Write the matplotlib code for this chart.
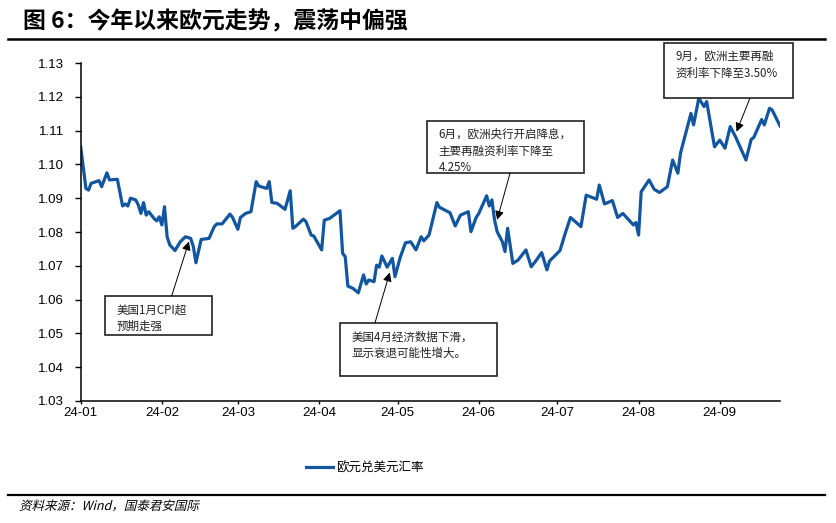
import pandas as pd
import matplotlib
matplotlib.use('Agg')
import matplotlib.pyplot as plt
import matplotlib.dates as mdates
from matplotlib.patches import Rectangle, PathPatch
from matplotlib.lines import Line2D
from matplotlib.textpath import TextPath
from matplotlib.font_manager import FontProperties
from matplotlib.transforms import Affine2D

plt.rcParams['font.family'] = ['Liberation Sans', 'Noto Sans CJK SC']
cjk = ['Noto Sans CJK SC', 'DejaVu Sans']

# EUR/USD
dates = ['2024-01-01', '2024-01-03', '2024-01-04', '2024-01-05', '2024-01-08', '2024-01-09',
         '2024-01-11', '2024-01-12', '2024-01-15', '2024-01-17', '2024-01-18', '2024-01-19',
         '2024-01-20', '2024-01-22', '2024-01-23', '2024-01-24', '2024-01-25', '2024-01-26',
         '2024-01-27', '2024-01-29', '2024-01-30', '2024-01-31', '2024-02-01', '2024-02-02',
         '2024-02-03', '2024-02-04', '2024-02-06', '2024-02-08', '2024-02-10', '2024-02-12',
         '2024-02-13', '2024-02-14', '2024-02-16', '2024-02-19', '2024-02-21', '2024-02-22',
         '2024-02-24', '2024-02-27', '2024-02-28', '2024-03-01', '2024-03-02', '2024-03-04',
         '2024-03-06', '2024-03-08', '2024-03-09', '2024-03-12', '2024-03-13', '2024-03-14',
         '2024-03-16', '2024-03-19', '2024-03-21', '2024-03-22', '2024-03-23', '2024-03-26',
         '2024-03-27', '2024-03-29', '2024-03-30', '2024-04-02', '2024-04-03', '2024-04-05',
         '2024-04-09', '2024-04-10', '2024-04-11', '2024-04-12', '2024-04-14', '2024-04-16',
         '2024-04-18', '2024-04-19', '2024-04-20', '2024-04-22', '2024-04-23', '2024-04-24',
         '2024-04-25', '2024-04-27', '2024-04-29', '2024-04-30', '2024-05-02', '2024-05-04',
         '2024-05-06', '2024-05-08', '2024-05-10', '2024-05-11', '2024-05-13', '2024-05-16',
         '2024-05-17', '2024-05-21', '2024-05-23', '2024-05-25', '2024-05-28', '2024-05-29',
         '2024-05-31', '2024-06-01', '2024-06-04', '2024-06-05', '2024-06-06', '2024-06-07',
         '2024-06-08', '2024-06-10', '2024-06-11', '2024-06-12', '2024-06-14', '2024-06-16',
         '2024-06-19', '2024-06-21', '2024-06-23', '2024-06-25', '2024-06-27', '2024-06-28',
         '2024-07-02', '2024-07-04', '2024-07-06', '2024-07-10', '2024-07-12', '2024-07-16',
         '2024-07-17', '2024-07-19', '2024-07-22', '2024-07-24', '2024-07-26', '2024-07-30',
         '2024-07-31', '2024-08-01', '2024-08-02', '2024-08-05', '2024-08-07', '2024-08-09',
         '2024-08-12', '2024-08-14', '2024-08-16', '2024-08-17', '2024-08-19', '2024-08-21',
         '2024-08-22', '2024-08-24', '2024-08-26', '2024-08-27', '2024-08-30', '2024-09-01',
         '2024-09-03', '2024-09-05', '2024-09-07', '2024-09-11', '2024-09-13', '2024-09-14',
         '2024-09-17', '2024-09-18', '2024-09-20', '2024-09-21', '2024-09-24']
eurusd = [1.1052, 1.0929, 1.0924, 1.0944, 1.0952, 1.0934,
          1.0975, 1.0954, 1.0956, 1.0877, 1.0883, 1.0877,
          1.0900, 1.0895, 1.0880, 1.0855, 1.0887, 1.0850,
          1.0860, 1.0840, 1.0833, 1.0845, 1.0821, 1.0875,
          1.0786, 1.0762, 1.0745, 1.0771, 1.0786, 1.0781,
          1.0757, 1.0709, 1.0778, 1.0781, 1.0816, 1.0824,
          1.0824, 1.0853, 1.0843, 1.0808, 1.0843, 1.0855,
          1.0860, 1.0949, 1.0936, 1.0929, 1.0949, 1.0887,
          1.0885, 1.0867, 1.0922, 1.0811, 1.0816, 1.0838,
          1.0831, 1.0791, 1.0788, 1.0747, 1.0835, 1.0840,
          1.0863, 1.0737, 1.0727, 1.0640, 1.0633, 1.0620,
          1.0673, 1.0646, 1.0658, 1.0653, 1.0702, 1.0696,
          1.0729, 1.0696, 1.0722, 1.0668, 1.0725, 1.0768,
          1.0771, 1.0747, 1.0786, 1.0774, 1.0791, 1.0887,
          1.0873, 1.0857, 1.0818, 1.0850, 1.0860, 1.0801,
          1.0843, 1.0855, 1.0907, 1.0877, 1.0895, 1.0836,
          1.0801, 1.0771, 1.0742, 1.0811, 1.0707, 1.0717,
          1.0747, 1.0697, 1.0717, 1.0739, 1.0688, 1.0714,
          1.0745, 1.0796, 1.0843, 1.0816, 1.0909, 1.0897,
          1.0939, 1.0883, 1.0893, 1.0843, 1.0855, 1.0821,
          1.0828, 1.0791, 1.0919, 1.0954, 1.0926, 1.0917,
          1.0934, 1.1013, 1.0974, 1.1033, 1.1092, 1.1151,
          1.1117, 1.1196, 1.1171, 1.1186, 1.1052, 1.1072,
          1.1048, 1.1112, 1.1082, 1.1013, 1.1074, 1.1080,
          1.1133, 1.1117, 1.1166, 1.1161, 1.1114]

month_ticks = ['2024-01-01', '2024-02-01', '2024-03-01', '2024-04-01', '2024-05-01',
               '2024-06-01', '2024-07-01', '2024-08-01', '2024-09-01']
y_ticks = [1.03, 1.04, 1.05, 1.06, 1.07, 1.08, 1.09, 1.10, 1.11, 1.12, 1.13]

# (text, box x0, y0, w, h in axes fraction, arrow tail (axes), arrow tip (date, value))
notes = [
  ('美国1月CPI超\n预期走强', (0.0347, 0.1953, 0.1531, 0.1154), (0.1301, 0.3107), ('2024-02-11 08:00', 1.0772)),
  ('美国4月经济数据下滑，\n显示衰退可能性增大。', (0.3707, 0.0749, 0.2242, 0.1550), (0.4208, 0.2308), ('2024-04-28', 1.0680)),
  ('6月，欧洲央行开启降息，\n主要再融资利率下降至\n4.25%', (0.4956, 0.6737, 0.2245, 0.1556), (0.6139, 0.6737), ('2024-06-08', 1.0836)),
  ('9月，欧洲主要再融\n资利率下降至3.50%', (0.8341, 0.8956, 0.1849, 0.1645), (0.9569, 0.8956), ('2024-09-07 10:00', 1.1097)),
]

d = pd.to_datetime(dates)

fig = plt.figure(figsize=(8.37, 5.23), dpi=100, facecolor='white')
ax = fig.add_axes([0.0964, 0.2333, 0.8355, 0.6462])
line, = ax.plot(d, eurusd, color='#1256a0', lw=2.3, solid_joinstyle='round', label='欧元兑美元汇率')

ax.set_xlim(pd.Timestamp('2024-01-01'), pd.Timestamp('2024-09-24'))
ax.set_ylim(1.03, 1.13)
ax.set_yticks(y_ticks)
ax.yaxis.set_major_formatter(plt.FormatStrFormatter('%.2f'))
ax.set_xticks(pd.to_datetime(month_ticks))
ax.xaxis.set_major_formatter(mdates.DateFormatter('%y-%m'))
for s in ['top', 'right']:
  ax.spines[s].set_visible(False)
for s in ['left', 'bottom']:
  ax.spines[s].set_linewidth(1.1)
ax.tick_params(axis='y', direction='out', length=4, width=1, labelsize=9.5, pad=8)
ax.tick_params(axis='x', direction='out', length=2.5, width=1, labelsize=9.5, pad=2)

for txt, box, tail, tip in notes:
  x0, y0, w, h = box
  ax.add_patch(Rectangle((x0, y0), w, h, transform=ax.transAxes, fill=True,
                         facecolor='white', edgecolor='#222222', lw=1.2, clip_on=False, zorder=4))
  ax.text(x0 + 0.016, y0 + h - 0.022, txt, transform=ax.transAxes, va='top', ha='left',
          fontsize=8.3, family=cjk, linespacing=1.33, color='#222222', zorder=5)
  ax.annotate('', xy=(pd.Timestamp(tip[0]), tip[1]), xycoords='data',
              xytext=tail, textcoords='axes fraction',
              arrowprops=dict(arrowstyle='-|>', color='black', lw=0.7, mutation_scale=13,
                              shrinkA=0, shrinkB=0), zorder=5, annotation_clip=False)

fig.legend(handles=[line], loc='center', bbox_to_anchor=(0.4355, 0.1052), frameon=False,
           prop={'family': cjk, 'size': 9}, handlelength=2.2, handletextpad=0.2)

fig.text(0.027, 0.958, '图 6：今年以来欧元走势，震荡中偏强', fontsize=16.5, fontweight='bold',
         family=cjk, va='center', ha='left')
fig.add_artist(Line2D([0.0096, 0.9857], [0.9254, 0.9254], color='black', lw=1.8))
fig.add_artist(Line2D([0.0096, 0.9857], [0.0535, 0.0535], color='black', lw=1.6))

# source note, slanted by hand since the CJK font has no italic face
src = TextPath((0, 0), '资料来源：Wind，国泰君安国际', size=12.5, prop=FontProperties(family=cjk))
fig.add_artist(PathPatch(src, transform=Affine2D().skew_deg(14, 0).translate(19, 523 - 510),
                         facecolor='black', edgecolor='none'))

fig.savefig('out.png', dpi=100, facecolor='white')
